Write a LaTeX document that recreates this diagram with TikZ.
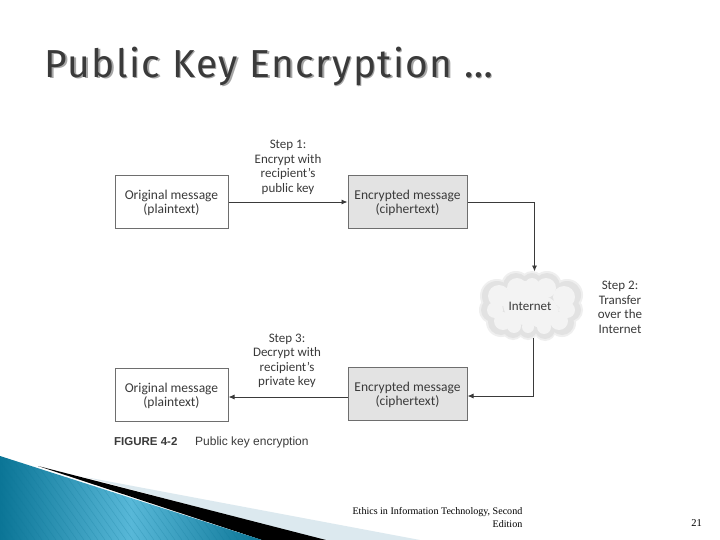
\documentclass[tikz,border=0pt]{standalone}
\usepackage{fontspec}
\setmainfont{Carlito}
\newfontfamily\titlefont[LetterSpace=3.7]{Fira Sans}
\newfontfamily\capfont{Liberation Sans}
\newfontfamily\footfont{Liberation Serif}
\usetikzlibrary{arrows.meta}
\definecolor{ink}{HTML}{3A3A3A}
\definecolor{edgeC}{HTML}{6E6E6E}
\definecolor{bandC}{HTML}{DCE9EF}
\definecolor{blueD}{HTML}{0B7596}
\definecolor{blueL}{HTML}{58B8D8}
\definecolor{cloudO}{HTML}{EFEFEF}
\definecolor{cloudA}{HTML}{E2E2E2}
\definecolor{cloudB}{HTML}{F3F3F3}
\tikzset{
  msgbox/.style={draw=edgeC,line width=1pt,fill=white,minimum width=113pt,minimum height=53pt,inner sep=0pt,
    align=center,text=ink,text depth=-2pt,font=\fontsize{13.5}{14.5}\selectfont},
  cipherbox/.style={msgbox,fill=black!11,minimum width=119pt},
  steptext/.style={align=center,text=ink,font=\fontsize{13}{14.5}\selectfont,inner sep=0pt},
  link/.style={draw=ink,line width=0.9pt,-{Latex[length=6pt,width=5pt]}},
  puffo/.style={fill=cloudO,draw=none},
  puff/.style={fill=cloudA,draw=none},
  puffb/.style={fill=cloudB,draw=none}
}
\begin{document}
\begin{tikzpicture}[x=1pt,y=-1pt]
\useasboundingbox (0,0) rectangle (720,540);
\fill[white] (0,0) rectangle (720,540);
% title
\node[anchor=base west,inner sep=0pt,text=black!35,font=\titlefont\fontsize{39}{39}\selectfont] (titleshadow) at (46,79) {Public Key Encryption …};
\node[anchor=base west,inner sep=0pt,text=ink,font=\titlefont\fontsize{39}{39}\selectfont] (title) at (44.5,77.5) {Public Key Encryption …};
% swoosh
\fill[bandC] (85,477) -- (420,540) -- (320,540) -- cycle;
\fill[black] (38,466) -- (326,540) -- (262,540) -- cycle;
\begin{scope}
\clip (0,456) -- (262,540) -- (0,540) -- cycle;
\shade[left color=blueD,right color=blueD,middle color=blueL] (0,456) rectangle (262,540);
\foreach \k in {0,7,...,350}{
  \draw[blueD,opacity=.25,line width=.5pt] (\k-60,456) -- (\k,540);
}
\end{scope}
% cloud
\foreach \a/\b/\r in {497/296/17,493/310/14,501/322/15,516/286/15,532/283/12,547/286/15,567/295/16,570/310/13,562/323/14,545/330/11,528/330/10,513/329/11}{
  \fill[puffo] (\a,\b) circle (\r);
}
\foreach \a/\b/\r in {497/296/15,493/310/12,501/322/13,516/286/13,532/283/10,547/286/13,567/295/14,570/310/11,562/323/12,545/329/10,528/329/9,513/328/10,530/305/27}{
  \fill[puff] (\a,\b) circle (\r);
}
\foreach \a/\b/\r in {499/296/11,495/310/8,503/321/9,517/288/10,532/285/7,546/288/10,564/297/11,567/310/8,559/321/9,544/327/7,528/327/6,514/326/7,525/303/22,542/312/16}{
  \fill[puffb] (\a,\b) circle (\r);
}
\node[minimum width=100pt,minimum height=64pt,inner sep=0pt,text=ink,font=\fontsize{13}{14.5}\selectfont] (cloud) at (530,306) {Internet};
% boxes
\node[msgbox] (orig1) at (171.5,202) {Original message\\(plaintext)};
\node[cipherbox] (enc1) at (407.5,202) {Encrypted message\\(ciphertext)};
\node[msgbox] (orig2) at (171.5,395) {Original message\\(plaintext)};
\node[cipherbox] (enc2) at (407.5,394) {Encrypted message\\(ciphertext)};
% step labels
\node[steptext] (s1) at (288,167.5) {Step 1:\\Encrypt with\\recipient’s\\public key};
\node[steptext] (s2) at (620,307.5) {Step 2:\\Transfer\\over the\\Internet};
\node[steptext] (s3) at (287,361) {Step 3:\\Decrypt with\\recipient’s\\private key};
% connectors
\coordinate (c1) at (534.5,202);
\coordinate (c1end) at (534.5,271.5);
\coordinate (c2start) at (533,338);
\coordinate (c2) at (533,396);
\draw[link] (orig1.east |- 0,202) -- (enc1.west |- 0,202);
\draw[link] (enc1.east |- c1) -- (c1) -- (c1end);
\draw[link] (c2start) -- (c2) -- (enc2.east |- c2);
\draw[link] (enc2.west |- 0,397) -- (orig2.east |- 0,397);
% caption
\node[anchor=base west,inner sep=0pt,text=ink,font=\capfont\bfseries\fontsize{11.5}{12}\selectfont] (figlab) at (114,445) {FIGURE 4-2};
\node[anchor=base west,inner sep=0pt,text=ink,font=\capfont\fontsize{12}{12}\selectfont] (figcap) at (195,445) {Public key encryption};
% footer
\node[anchor=north east,inner sep=0pt,align=right,text=black,font=\footfont\fontsize{10.05}{12.5}\selectfont] (foot) at (522.5,507.5) {Ethics in Information Technology, Second\\Edition};
\node[anchor=base east,inner sep=0pt,text=black,font=\footfont\fontsize{10.5}{12}\selectfont] (page) at (702,526) {21};
\end{tikzpicture}
\end{document}
